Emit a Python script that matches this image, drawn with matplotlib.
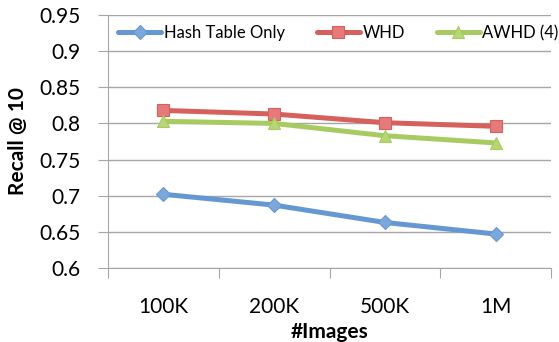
import matplotlib
matplotlib.use("Agg")
import matplotlib.pyplot as plt
import numpy as np

plt.rcParams["font.family"] = ["Lato", "DejaVu Sans"]

sizes = ["100K", "200K", "500K", "1M"]
hash_only = [0.702, 0.687, 0.663, 0.647]
whd = [0.818, 0.813, 0.801, 0.796]
awhd = [0.803, 0.800, 0.783, 0.773]

# name, values, line colour, marker face, marker, marker size
series = [
    ("Hash Table Only", hash_only, "#6598d2", "#7aa8dc", "D", 7),
    ("WHD", whd, "#d6605c", "#e6797a", "s", 8),
    ("AWHD (4)", awhd, "#a7cb60", "#b7d777", "^", 8),
]
grid_col = "#a6a6a6"

fig = plt.figure(figsize=(5.59, 3.42), dpi=100)
ax = fig.add_axes([108 / 559, 1 - 268 / 342, (551 - 108) / 559, (268 - 15) / 342])

x = np.arange(len(sizes))
for name, vals, color, face, marker, ms in series:
    ax.plot(x, vals, color=color, lw=3.6, marker=marker, ms=ms,
            markerfacecolor=face, markeredgecolor=color, markeredgewidth=0.8,
            label=name, solid_capstyle="round")

ax.set_xlim(-0.5, len(sizes) - 0.5)
ax.set_ylim(0.6, 0.95)
ax.set_yticks(np.arange(0.6, 0.951, 0.05))
ax.set_yticklabels(["0.6", "0.65", "0.7", "0.75", "0.8", "0.85", "0.9", "0.95"])
ax.yaxis.grid(True, color=grid_col, lw=1)
ax.set_axisbelow(True)

# category labels sit between the boundary ticks
ax.set_xticks(np.arange(-0.5, len(sizes), 1.0))
ax.set_xticklabels([])
ax.set_xticks(x, minor=True)
ax.set_xticklabels(sizes, minor=True)
ax.tick_params(axis="x", which="minor", length=0, pad=21, labelsize=15)
ax.tick_params(axis="x", which="major", length=7, color=grid_col, direction="out")
ax.tick_params(axis="y", length=7, color=grid_col, labelsize=15, pad=13)

for side in ("top", "right"):
    ax.spines[side].set_visible(False)
for side in ("left", "bottom"):
    ax.spines[side].set_color(grid_col)

ax.set_ylabel("Recall @ 10", fontsize=15, fontweight="bold")
ax.set_xlabel("#Images", fontsize=15, fontweight="bold")
ax.xaxis.set_label_coords(0.5, (268 - 332) / 253)
ax.xaxis.label.set_va("center")
ax.yaxis.set_label_coords((18 - 108) / 443, 0.5)
ax.yaxis.label.set_va("center")

ax.legend(loc="center left", bbox_to_anchor=(10 / 443, 1 - 18 / 253), ncol=3,
          frameon=False, fontsize=12, handlelength=2.6, handletextpad=0.15,
          columnspacing=1.9, borderaxespad=0, borderpad=0)

fig.savefig("out.png", dpi=100)
